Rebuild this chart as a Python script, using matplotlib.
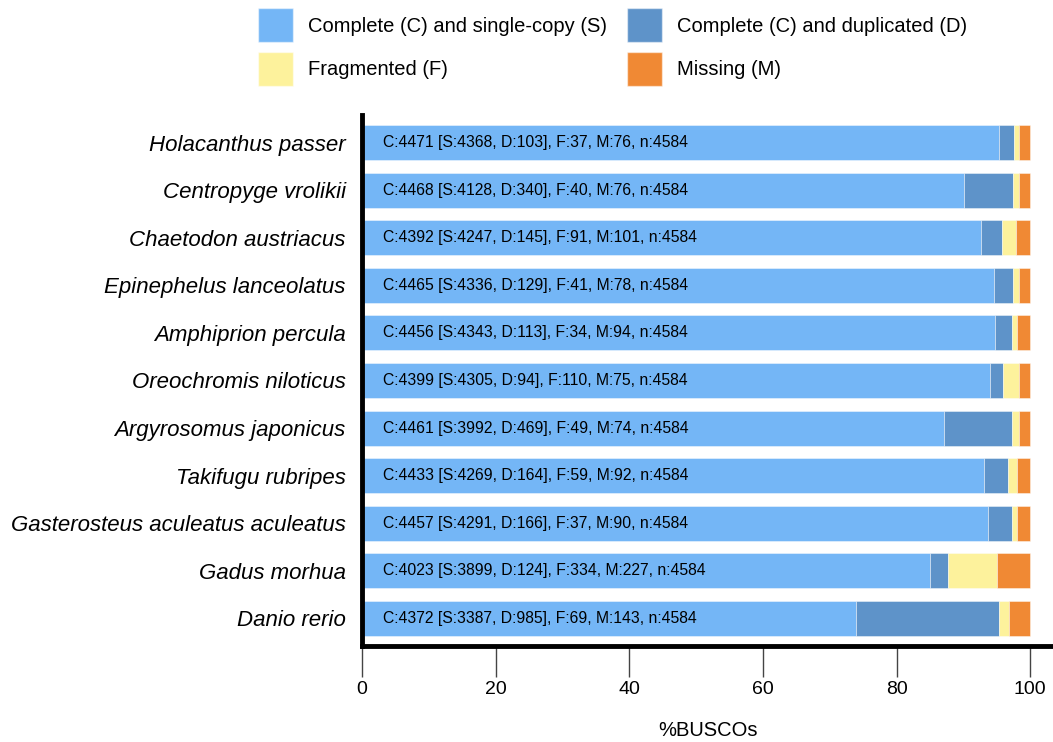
import matplotlib.pyplot as plt
from matplotlib.patches import Patch

plt.rcParams["font.family"] = ["Liberation Sans", "DejaVu Sans"]

species = [
    "Holacanthus passer",
    "Centropyge vrolikii",
    "Chaetodon austriacus",
    "Epinephelus lanceolatus",
    "Amphiprion percula",
    "Oreochromis niloticus",
    "Argyrosomus japonicus",
    "Takifugu rubripes",
    "Gasterosteus aculeatus aculeatus",
    "Gadus morhua",
    "Danio rerio",
]
single = [4368, 4128, 4247, 4336, 4343, 4305, 3992, 4269, 4291, 3899, 3387]
duplicated = [103, 340, 145, 129, 113, 94, 469, 164, 166, 124, 985]
fragmented = [37, 40, 91, 41, 34, 110, 49, 59, 37, 334, 69]
missing = [76, 76, 101, 78, 94, 75, 74, 92, 90, 227, 143]
total = 4584

colors = ["#74b6f6", "#5e93c9", "#fdf29c", "#f08934"]
legend_labels = [
    "Complete (C) and single-copy (S)",
    "Complete (C) and duplicated (D)",
    "Fragmented (F)",
    "Missing (M)",
]

fig = plt.figure(figsize=(10.53, 7.42), dpi=100)
ax = fig.add_axes([0.3438, 0.1294, 0.6562, 0.7156])

n = len(species)
ypos = [n - 1 - i for i in range(n)]
left = [0.0] * n
for vals, col in zip([single, duplicated, fragmented, missing], colors):
    pct = [v / total * 100 for v in vals]
    ax.barh(ypos, pct, left=left, height=0.735, color=col,
            edgecolor=(1, 1, 1, 0.5), linewidth=0.6)
    left = [l + p for l, p in zip(left, pct)]

for i in range(n):
    c = single[i] + duplicated[i]
    txt = "C:%d [S:%d, D:%d], F:%d, M:%d, n:%d" % (
        c, single[i], duplicated[i], fragmented[i], missing[i], total)
    ax.text(3.1, ypos[i], txt, va="center", ha="left", fontsize=11.3)

ax.set_yticks(ypos)
ax.set_yticklabels(species, fontsize=16, style="italic")
ax.tick_params(axis="y", length=0, pad=11.8)
ax.set_xlim(0, 103.4)
ax.set_ylim(-0.578, n - 1 + 0.578)
ax.set_xticks([0, 20, 40, 60, 80, 100])
ax.tick_params(axis="x", labelsize=14, length=22, width=1, color="#444444", pad=3)
ax.set_xlabel("%BUSCOs", fontsize=14.5, labelpad=16.5)

for s in ["top", "right"]:
    ax.spines[s].set_visible(False)
ax.spines["left"].set_linewidth(3.5)
ax.spines["bottom"].set_linewidth(3.5)

handles = [Patch(facecolor=colors[0], edgecolor=(1, 1, 1, 0.5)),
           Patch(facecolor=colors[2], edgecolor=(1, 1, 1, 0.5)),
           Patch(facecolor=colors[1], edgecolor=(1, 1, 1, 0.5)),
           Patch(facecolor=colors[3], edgecolor=(1, 1, 1, 0.5))]
labels = [legend_labels[0], legend_labels[2], legend_labels[1], legend_labels[3]]
fig.legend(handles, labels, ncol=2, loc="upper left", bbox_to_anchor=(0.2374, 1.0),
           frameon=False, fontsize=14.5, handlelength=1.74, handleheight=2.25,
           labelspacing=0.45, handletextpad=0.75, columnspacing=1.0,
           borderaxespad=0, borderpad=0.4)

fig.savefig("out.png", dpi=100)
